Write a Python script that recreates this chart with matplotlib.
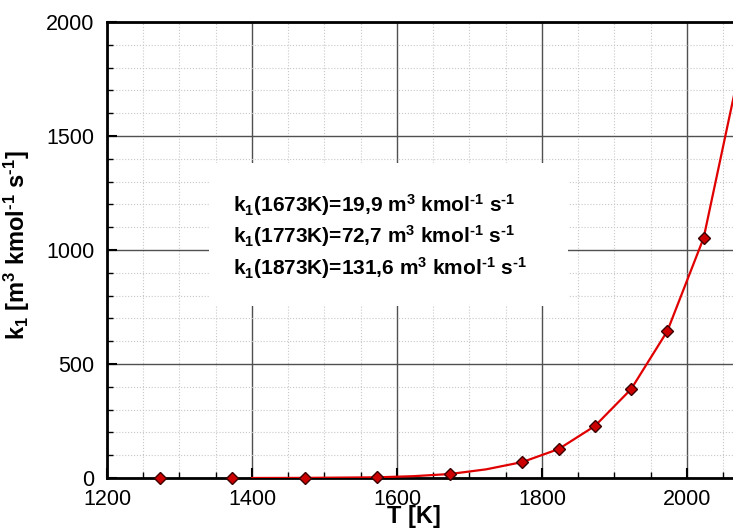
import matplotlib
matplotlib.use("Agg")
import matplotlib.pyplot as plt
from matplotlib.ticker import MultipleLocator
from matplotlib.patches import Rectangle

# Data
T_points = [1273, 1373, 1473, 1573, 1673, 1773, 1823, 1873, 1923, 1973, 2023, 2073]
k_points = [0.0, 0.0, 0.5, 3.0, 17.5, 70, 127, 228, 390, 645, 1053, 1800]

T_curve = [1400, 1473, 1573, 1623, 1673, 1723, 1773, 1823, 1873, 1923, 1973, 2023, 2073]
k_curve = [0.0, 0.5, 3.0, 8.0, 17.5, 38, 70, 127, 228, 390, 645, 1053, 1800]

annot_lines = [
    r"k$_1$(1673K)=19,9 m$^3$ kmol$^{\text{-}1}$ s$^{\text{-}1}$",
    r"k$_1$(1773K)=72,7 m$^3$ kmol$^{\text{-}1}$ s$^{\text{-}1}$",
    r"k$_1$(1873K)=131,6 m$^3$ kmol$^{\text{-}1}$ s$^{\text{-}1}$",
]
xlabel = "T [K]"
ylabel = r"k$_1$ [m$^3$ kmol$^{\text{-}1}$ s$^{\text{-}1}$]"

plt.rcParams['font.family'] = ['Liberation Sans', 'DejaVu Sans']
plt.rcParams['mathtext.fontset'] = 'custom'
plt.rcParams['mathtext.rm'] = 'Liberation Sans:bold'
plt.rcParams['mathtext.bf'] = 'Liberation Sans:bold'
plt.rcParams['mathtext.sf'] = 'Liberation Sans:bold'
plt.rcParams['mathtext.it'] = 'Liberation Sans:bold'
plt.rcParams['mathtext.default'] = 'bf'

fig = plt.figure(figsize=(7.33, 5.31), dpi=100)
W, H = 733, 531
ax_left, ax_right, ax_top, ax_bot = 107, 733, 22, 478
ax = fig.add_axes([ax_left / W, (H - ax_bot) / H, (ax_right - ax_left) / W, (ax_bot - ax_top) / H])

ax.set_xlim(1200, 2063.5)
ax.set_ylim(0, 2000)

ax.xaxis.set_major_locator(MultipleLocator(200))
ax.xaxis.set_minor_locator(MultipleLocator(50))
ax.yaxis.set_major_locator(MultipleLocator(500))
ax.yaxis.set_minor_locator(MultipleLocator(100))

ax.grid(which='major', color='#505050', linewidth=1.0, linestyle='-', zorder=0)
ax.grid(which='minor', color='#c8c8c8', linewidth=0.8, linestyle=':', zorder=0)
ax.set_axisbelow(True)

ax.tick_params(which='major', direction='in', length=7, width=1.5, labelsize=15.5, pad=8, colors='black')
ax.tick_params(which='minor', direction='in', length=4, width=1.0)
ax.tick_params(axis='y', which='major', pad=9)

for side in ['left', 'bottom', 'top']:
    ax.spines[side].set_linewidth(2.0)
    ax.spines[side].set_color('black')
ax.spines['right'].set_visible(False)

# white box behind annotation
bx0 = (209 - ax_left) / (ax_right - ax_left)
bx1 = (568 - ax_left) / (ax_right - ax_left)
by0 = (ax_bot - 306) / (ax_bot - ax_top)
by1 = (ax_bot - 163) / (ax_bot - ax_top)
ax.add_patch(Rectangle((bx0, by0), bx1 - bx0, by1 - by0, transform=ax.transAxes,
                       facecolor='white', edgecolor='none', zorder=1))

ax.plot(T_curve, k_curve, color='#e00000', linewidth=1.6, zorder=3)
ax.plot(T_points, k_points, linestyle='none', marker='D', markersize=6.3,
        markerfacecolor='#cc0000', markeredgecolor='#3a0000', markeredgewidth=1.0,
        zorder=4, clip_on=False)

tx = (233 - ax_left) / (ax_right - ax_left)
for i, line in enumerate(annot_lines):
    ty = (ax_bot - (205 + 31.5 * i)) / (ax_bot - ax_top)
    ax.text(tx, ty, line, transform=ax.transAxes, ha='left', va='center',
            fontsize=15, fontweight='bold', zorder=5)

ax.set_xlabel(xlabel, fontsize=17, fontweight='bold')
ax.xaxis.set_label_coords(0.49, -0.06)
ax.set_ylabel(ylabel, fontsize=17, fontweight='bold')
ax.yaxis.set_label_coords(-0.12, 0.51)

fig.savefig("out.png", dpi=100)
